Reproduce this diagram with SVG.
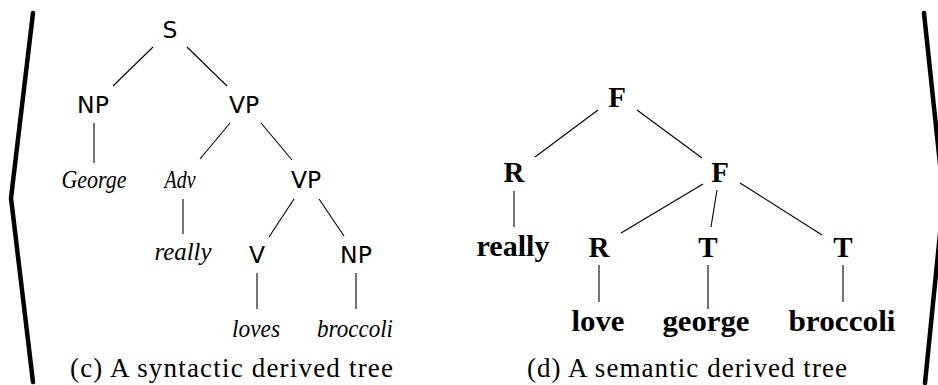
<svg xmlns="http://www.w3.org/2000/svg" width="938" height="385" viewBox="0 0 938 385">
<style>
.sans{font-family:"DejaVu Sans","Liberation Sans",sans-serif;font-size:23.5px;text-anchor:middle;fill:#000}
.it{font-family:"Liberation Serif","DejaVu Serif",serif;font-style:italic;font-size:24.5px;text-anchor:middle;fill:#000}
.bd{font-family:"Liberation Serif","DejaVu Serif",serif;font-weight:bold;font-size:29px;text-anchor:middle;fill:#000}
.cap{font-family:"Liberation Serif","DejaVu Serif",serif;font-size:27px;fill:#000}
.edge{stroke:#000;stroke-width:1.1;fill:none}
.brk{stroke:#000;stroke-width:4.5;fill:none;stroke-linecap:round;stroke-linejoin:round}
</style>
<rect width="938" height="385" fill="#fff"/>
<g id="brackets">
<polyline class="brk" points="33,13 11,198 33,382"/>
<polyline class="brk" points="924,13 943.6,198 925,383"/>
</g>
<g id="connectors">
<line class="edge" x1="153" y1="47" x2="113" y2="86"/>
<line class="edge" x1="187" y1="47" x2="227" y2="86"/>
<line class="edge" x1="94" y1="123" x2="94" y2="163"/>
<line class="edge" x1="230" y1="123" x2="200" y2="159"/>
<line class="edge" x1="261" y1="123" x2="292" y2="160"/>
<line class="edge" x1="183" y1="199" x2="183" y2="234"/>
<line class="edge" x1="294" y1="199" x2="269" y2="237"/>
<line class="edge" x1="319" y1="199" x2="344" y2="236"/>
<line class="edge" x1="257" y1="273" x2="257" y2="309"/>
<line class="edge" x1="356" y1="273" x2="356" y2="309"/>
<line class="edge" x1="598" y1="110" x2="535" y2="157"/>
<line class="edge" x1="637" y1="110" x2="702" y2="158"/>
<line class="edge" x1="514" y1="191" x2="514" y2="227"/>
<line class="edge" x1="703" y1="184" x2="621" y2="233"/>
<line class="edge" x1="717" y1="190" x2="711" y2="227"/>
<line class="edge" x1="740" y1="183" x2="822" y2="235"/>
<line class="edge" x1="599" y1="265" x2="599" y2="302"/>
<line class="edge" x1="708" y1="265" x2="708" y2="309"/>
<line class="edge" x1="843" y1="265" x2="843" y2="302"/>
</g>
<g id="syn-S"><text class="sans" x="170" y="38">S</text></g>
<g id="syn-NP1"><text class="sans" x="93" y="113">NP</text></g>
<g id="syn-VP1"><text class="sans" x="244" y="113">VP</text></g>
<g id="syn-George"><text class="it" x="94" y="188" textLength="65" lengthAdjust="spacingAndGlyphs">George</text></g>
<g id="syn-Adv"><text class="it" x="180" y="188" textLength="31" lengthAdjust="spacingAndGlyphs">Adv</text></g>
<g id="syn-VP2"><text class="sans" x="306" y="188">VP</text></g>
<g id="syn-really"><text class="it" x="183" y="260" textLength="57" lengthAdjust="spacingAndGlyphs">really</text></g>
<g id="syn-V"><text class="sans" x="257" y="263">V</text></g>
<g id="syn-NP2"><text class="sans" x="356" y="263">NP</text></g>
<g id="syn-loves"><text class="it" x="256" y="337" textLength="48" lengthAdjust="spacingAndGlyphs">loves</text></g>
<g id="syn-broccoli"><text class="it" x="355" y="337" textLength="76" lengthAdjust="spacingAndGlyphs">broccoli</text></g>
<g id="cap-c"><text class="cap" x="70" y="377" textLength="323" lengthAdjust="spacing">(c) A syntactic derived tree</text></g>
<g id="sem-F1"><text class="bd" x="617" y="107">F</text></g>
<g id="sem-R1"><text class="bd" x="514" y="182">R</text></g>
<g id="sem-F2"><text class="bd" x="720" y="182">F</text></g>
<g id="sem-really"><text class="bd" x="513" y="256" textLength="73" lengthAdjust="spacingAndGlyphs">really</text></g>
<g id="sem-R2"><text class="bd" x="599" y="257">R</text></g>
<g id="sem-T1"><text class="bd" x="708" y="257">T</text></g>
<g id="sem-T2"><text class="bd" x="843" y="257">T</text></g>
<g id="sem-love"><text class="bd" x="598" y="331" textLength="53" lengthAdjust="spacingAndGlyphs">love</text></g>
<g id="sem-george"><text class="bd" x="706" y="331" textLength="87" lengthAdjust="spacingAndGlyphs">george</text></g>
<g id="sem-broccoli"><text class="bd" x="842" y="331" textLength="107" lengthAdjust="spacingAndGlyphs">broccoli</text></g>
<g id="cap-d"><text class="cap" x="527" y="377" textLength="320" lengthAdjust="spacing">(d) A semantic derived tree</text></g>
</svg>
